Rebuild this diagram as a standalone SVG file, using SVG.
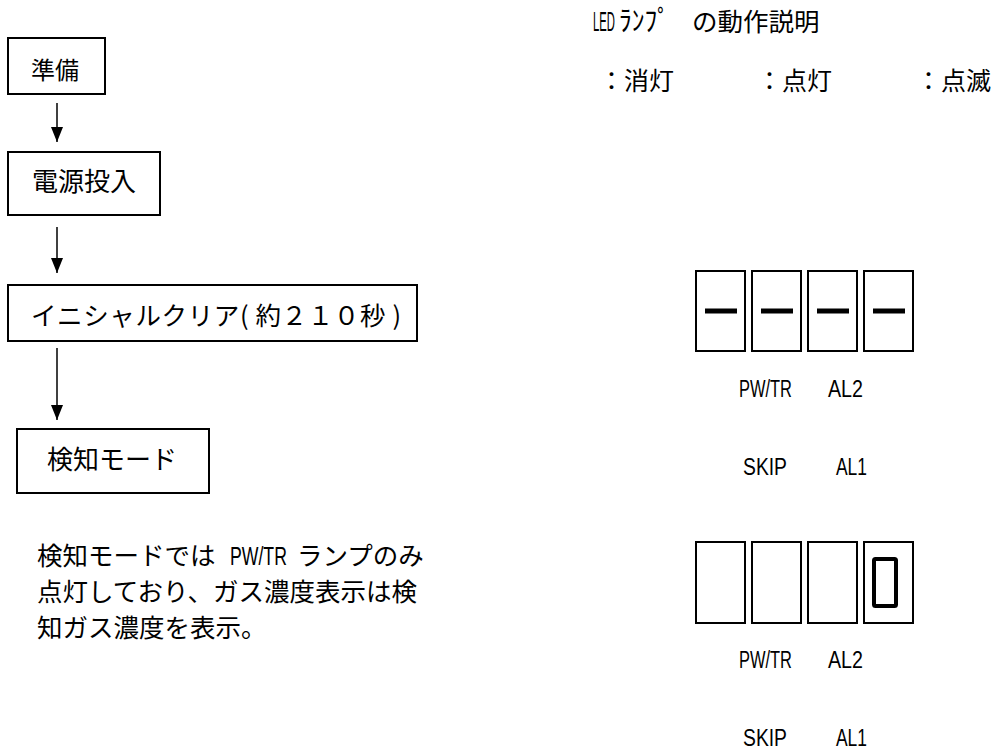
<svg xmlns="http://www.w3.org/2000/svg" width="997" height="752" viewBox="0 0 997 752">
<style>
  .box { fill: #fff; stroke: #000; stroke-width: 2; }
  .jp { font-family: "Noto Sans CJK JP", "Noto Sans", sans-serif; fill: #000; }
  .lat { font-family: "Liberation Sans", "Noto Sans", sans-serif; fill: #000; }
  .lbl { font-family: "Liberation Sans", "Noto Sans", sans-serif; fill: #000; font-size: 23px; }
  .edge { stroke: #000; stroke-width: 1.5; fill: none; }
  .seg { fill: #fff; stroke: #000; stroke-width: 2; }
  .bar { fill: #000; }
  .zero { fill: none; stroke: #000; stroke-width: 4; }
</style>
<defs>
  <marker id="arrowDown" markerUnits="userSpaceOnUse" markerWidth="14" markerHeight="16" viewBox="-7 -15 14 16" refX="0" refY="0" orient="0">
    <path d="M-6,-15 L6,-15 L0,0 Z" fill="#000"/>
  </marker>
</defs>
<rect width="997" height="752" fill="#fff"/>

<!-- connectors -->
<g id="connectors">
  <line class="edge" x1="57" y1="103" x2="57" y2="142" marker-end="url(#arrowDown)"/>
  <line class="edge" x1="57" y1="227" x2="57" y2="273" marker-end="url(#arrowDown)"/>
  <line class="edge" x1="57" y1="348" x2="57" y2="420" marker-end="url(#arrowDown)"/>
</g>

<!-- flow nodes -->
<g id="node-junbi">
  <rect class="box" x="8" y="38" width="97" height="56"/>
  <text class="jp" x="31" y="79" font-size="24">準備</text>
</g>
<g id="node-dengen">
  <rect class="box" x="8" y="152" width="152" height="63"/>
  <text class="jp" x="32" y="191" font-size="26">電源投入</text>
</g>
<g id="node-initial">
  <rect class="box" x="8" y="285" width="409" height="56"/>
  <text class="jp" x="31" y="325" font-size="25.5" textLength="370" lengthAdjust="spacing">イニシャルクリア( 約２１０秒 )</text>
</g>
<g id="node-kenchi">
  <rect class="box" x="17" y="429" width="192" height="64"/>
  <text class="jp" x="47" y="469" font-size="26">検知モード</text>
</g>

<!-- note -->
<g id="note">
  <text class="jp" x="37" y="565" font-size="25.5">検知モードでは</text>
  <text class="lat" transform="translate(230 565) scale(0.707 1)" font-size="25">PW/TR</text>
  <text class="jp" x="297" y="565" font-size="25.5">ランプのみ</text>
  <text class="jp" x="37" y="601" font-size="25.5">点灯しており、ガス濃度表示は検</text>
  <text class="jp" x="37" y="637" font-size="25.5">知ガス濃度を表示。</text>
</g>

<!-- legend -->
<g id="legend">
  <text class="lat" transform="translate(593 31) scale(0.404 1)" font-size="28">LED</text>
  <text class="jp" transform="translate(619 31) scale(0.91 1)" font-size="28">ﾗﾝﾌﾟ</text>
  <text class="jp" x="692" y="31" font-size="25.5">の動作説明</text>
  <text class="jp" x="599" y="90" font-size="25">：消灯</text>
  <text class="jp" x="757" y="90" font-size="25">：点灯</text>
  <text class="jp" x="916" y="90" font-size="25">：点滅</text>
</g>

<!-- display 1: initial clear -->
<g id="display-initial">
  <rect class="seg" x="696" y="271" width="49" height="80"/>
  <rect class="seg" x="752" y="271" width="49" height="80"/>
  <rect class="seg" x="808" y="271" width="49" height="80"/>
  <rect class="seg" x="864" y="271" width="49" height="80"/>
  <rect class="bar" x="705" y="308.5" width="32" height="5"/>
  <rect class="bar" x="761" y="308.5" width="32" height="5"/>
  <rect class="bar" x="817" y="308.5" width="32" height="5"/>
  <rect class="bar" x="873" y="308.5" width="32" height="5"/>
  <text class="lbl" x="739" y="397" textLength="53" lengthAdjust="spacingAndGlyphs">PW/TR</text>
  <text class="lbl" x="828" y="397" textLength="35" lengthAdjust="spacingAndGlyphs">AL2</text>
  <text class="lbl" x="743" y="475" textLength="44" lengthAdjust="spacingAndGlyphs">SKIP</text>
  <text class="lbl" x="836" y="475" textLength="31" lengthAdjust="spacingAndGlyphs">AL1</text>
</g>

<!-- display 2: detection mode -->
<g id="display-detect">
  <rect class="seg" x="696" y="542" width="49" height="81"/>
  <rect class="seg" x="752" y="542" width="49" height="81"/>
  <rect class="seg" x="808" y="542" width="49" height="81"/>
  <rect class="seg" x="864" y="542" width="49" height="81"/>
  <rect class="zero" x="874" y="559" width="22" height="47" rx="1.5"/>
  <text class="lbl" x="739" y="668" textLength="53" lengthAdjust="spacingAndGlyphs">PW/TR</text>
  <text class="lbl" x="828" y="668" textLength="35" lengthAdjust="spacingAndGlyphs">AL2</text>
  <text class="lbl" x="743" y="746" textLength="44" lengthAdjust="spacingAndGlyphs">SKIP</text>
  <text class="lbl" x="836" y="746" textLength="31" lengthAdjust="spacingAndGlyphs">AL1</text>
</g>
</svg>
